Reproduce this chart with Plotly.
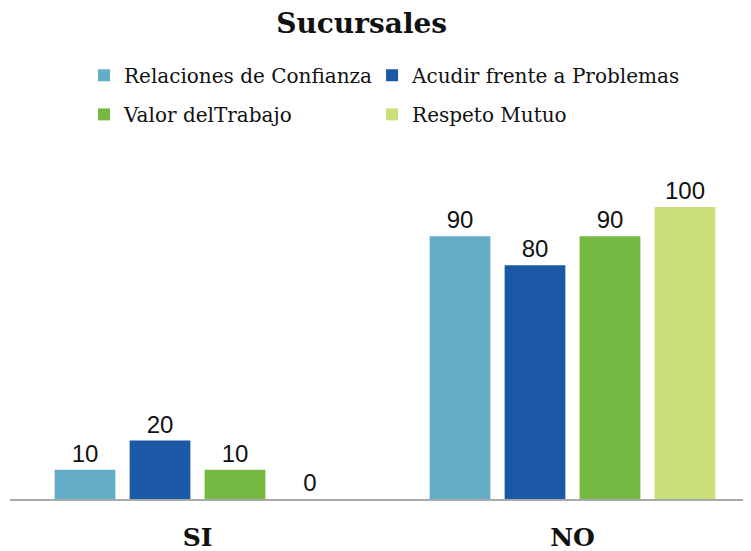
import plotly.graph_objects as go

categories = ["SI", "NO"]
series_names = ["Relaciones de Confianza", "Acudir frente a Problemas", "Valor delTrabajo", "Respeto Mutuo"]
relaciones = [10, 90]
acudir = [20, 80]
valor = [10, 90]
respeto = [0, 100]
colors = ["#63adc6", "#1b59a6", "#75b943", "#c9df79"]
legend_ids = ["legend", "legend2", "legend3", "legend4"]

values = [relaciones, acudir, valor, respeto]

W, H = 743, 543  # page body adds an 8px margin

fig = go.Figure()
for name, vals, col, lg in zip(series_names, values, colors, legend_ids):
    fig.add_trace(go.Bar(
        x=categories, y=vals, name=name, marker_color=col, marker_line_width=0,
        text=vals, texttemplate="%{text}", textposition="outside",
        textfont=dict(family="Liberation Sans, Arial", size=24, color="#111111"),
        cliponaxis=False, legend=lg, showlegend=True,
    ))

leg_common = dict(orientation="h", xref="container", yref="container",
                  xanchor="left", yanchor="top",
                  font=dict(family="DejaVu Serif", size=20, color="#111111"),
                  bgcolor="rgba(0,0,0,0)", itemclick=False, itemdoubleclick=False)

col1_x, col2_x = 0.1023, 0.490
row1_y, row2_y = 0.912, 0.840

fig.update_layout(
    width=W, height=H, showlegend=True,
    margin=dict(l=2, r=0, t=142, b=52),
    paper_bgcolor="white", plot_bgcolor="white",
    title=dict(text="<b>Sucursales</b>", x=0.476, xref="container", xanchor="center",
               y=0.9715, yref="container", yanchor="middle",
               font=dict(family="DejaVu Serif", size=28, color="#111111")),
    barmode="group", bargap=0.2, bargroupgap=0.19,
    legend=dict(x=col1_x, y=row1_y, **leg_common),
    legend2=dict(x=col2_x, y=row1_y, **leg_common),
    legend3=dict(x=col1_x, y=row2_y, **leg_common),
    legend4=dict(x=col2_x, y=row2_y, **leg_common),
    xaxis=dict(range=[-0.5, 1.476], showline=True, linecolor="#a9a9a9", linewidth=2,
               showgrid=False, zeroline=False, ticks="", ticklabelstandoff=15,
               tickfont=dict(family="DejaVu Serif", size=25, color="#111111", weight="bold")),
    yaxis=dict(range=[0, 119.5], visible=False, showgrid=False, zeroline=False),
)

fig.write_html("out.html")
